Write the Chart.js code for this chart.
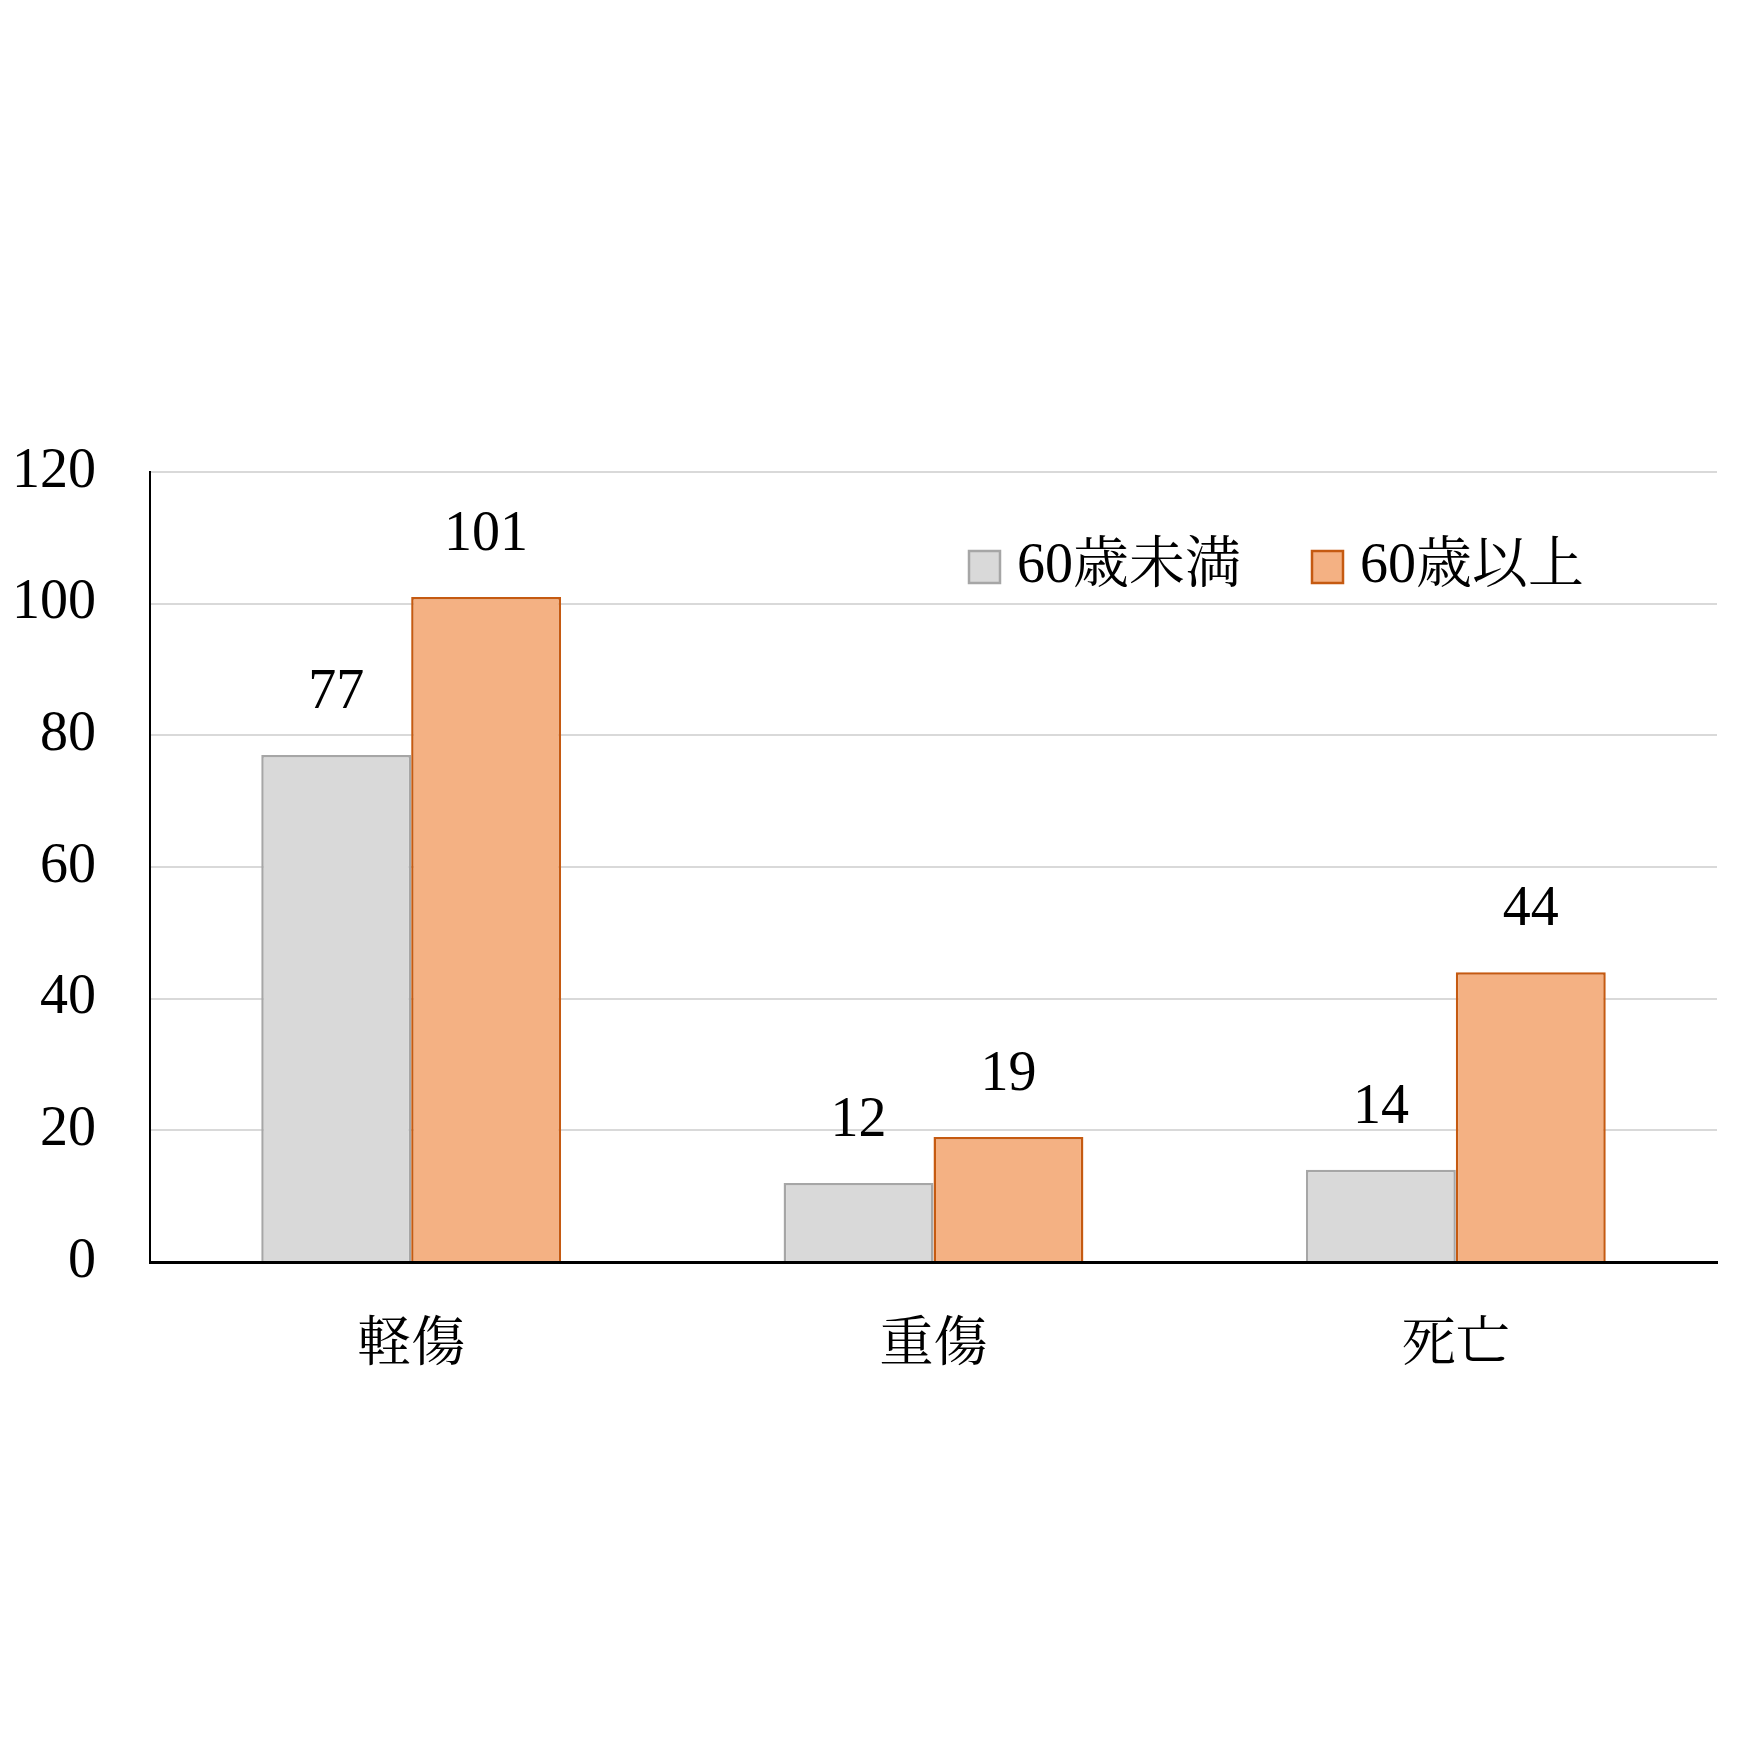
<!DOCTYPE html>
<html>
<head>
<meta charset="utf-8">
<script src="https://cdn.jsdelivr.net/npm/chart.js@4"></script>
<style>
html,body{margin:0;padding:0;background:#fff;}
canvas{display:block;}
</style>
</head>
<body>
<canvas id="c" width="1757" height="1757"></canvas>
<script>
const categories = ['軽傷', '重傷', '死亡'];
const seriesNames = ['60歳未満', '60歳以上'];
const under60 = [77, 12, 14];
const over60 = [101, 19, 44];
const yTicks = [0, 20, 40, 60, 80, 100, 120];

const FONT = "'Liberation Serif', 'Noto Serif CJK JP', 'Noto Sans CJK JP', serif";

const dataLabels = {
  id: 'dataLabels',
  afterDatasetsDraw(chart) {
    const ctx = chart.ctx;
    ctx.save();
    ctx.font = '56px ' + FONT;
    ctx.fillStyle = '#000';
    ctx.textAlign = 'center';
    ctx.textBaseline = 'alphabetic';
    chart.data.datasets.forEach((ds, i) => {
      chart.getDatasetMeta(i).data.forEach((bar, j) => {
        ctx.fillText(String(ds.data[j]), bar.x, bar.y - 47);
      });
    });
    ctx.restore();
  }
};

const insideLegend = {
  id: 'insideLegend',
  afterDraw(chart) {
    const ctx = chart.ctx;
    ctx.save();
    ctx.font = '56px ' + FONT;
    ctx.textAlign = 'left';
    ctx.textBaseline = 'middle';
    const starts = [969, 1312];
    const cy = 567;
    chart.data.datasets.forEach((ds, i) => {
      const x = starts[i];
      ctx.fillStyle = ds.backgroundColor;
      ctx.fillRect(x, cy - 16, 31, 32);
      ctx.strokeStyle = ds.borderColor;
      ctx.lineWidth = 2.5;
      ctx.strokeRect(x, cy - 16, 31, 32);
      ctx.fillStyle = '#000';
      ctx.fillText(ds.label, x + 48, cy);
    });
    ctx.restore();
  }
};

new Chart(document.getElementById('c'), {
  type: 'bar',
  data: {
    labels: categories,
    datasets: [
      { label: seriesNames[0], data: under60, backgroundColor: '#D9D9D9', borderColor: '#A6A6A6', borderWidth: 2.5,
        barPercentage: 1.0, categoryPercentage: 0.574 },
      { label: seriesNames[1], data: over60, backgroundColor: '#F4B183', borderColor: '#C55A11', borderWidth: 2.5,
        barPercentage: 1.0, categoryPercentage: 0.574 }
    ]
  },
  options: {
    responsive: false,
    devicePixelRatio: 1,
    animation: false,
    layout: { padding: { top: 472, right: 40, bottom: 375, left: 0 } },
    plugins: { legend: { display: false }, tooltip: { enabled: false } },
    scales: {
      x: {
        grid: { display: false, drawTicks: false },
        border: { display: true, color: '#000', width: 3 },
        ticks: { color: '#000', font: { family: FONT, size: 54 }, padding: 52 },
        afterFit(scale) { scale.height = 120; }
      },
      y: {
        min: 0, max: 120,
        afterBuildTicks(scale) { scale.ticks = yTicks.map(v => ({ value: v })); },
        grid: { color: '#D9D9D9', lineWidth: 2, drawTicks: false },
        border: { display: true, color: '#000', width: 2 },
        ticks: { color: '#000', font: { family: FONT, size: 56 }, padding: 54 },
        afterFit(scale) { scale.width = 150; }
      }
    }
  },
  plugins: [dataLabels, insideLegend]
});
</script>
</body>
</html>
